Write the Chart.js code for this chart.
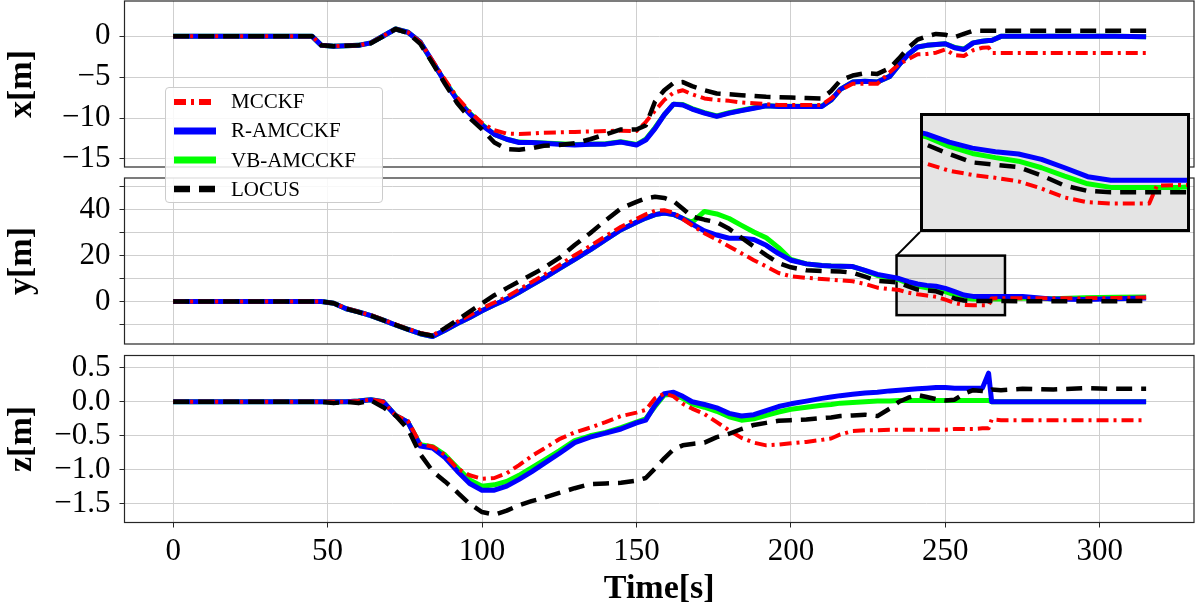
<!DOCTYPE html>
<html>
<head>
<meta charset="utf-8">
<script src="https://cdn.jsdelivr.net/npm/chart.js@4.4.1/dist/chart.umd.min.js"></script>
<style>
  html, body { margin: 0; padding: 0; background: #fff; }
  body { width: 1196px; height: 610px; position: relative; overflow: hidden; font-family: "Liberation Serif", serif; }
  canvas { position: absolute; left: 0; }
  #legend {
    position: absolute; left: 165px; top: 87px; width: 216px; height: 114px;
    background: rgba(255,255,255,0.85); border: 1px solid #cccccc; border-radius: 4px; z-index: 10;
  }
  #legend .item { position: absolute; left: 8px; height: 27px; display: flex; align-items: center; }
  #legend .item span { margin-left: 15px; font-size: 21px; color: #000; }
</style>
</head>
<body>
<canvas id="zPanel" width="1196" height="260" style="top:350px; z-index:1"></canvas>
<canvas id="yPanel" width="1196" height="184" style="top:170px; z-index:2"></canvas>
<canvas id="xPanel" width="1196" height="176" style="top:0px; z-index:3"></canvas>
<canvas id="inset" width="270" height="119" style="left:920px; top:113px; z-index:4"></canvas>
<div id="legend"></div>

<script>
// ---- data ----
const time = [0, 45, 48, 52, 56, 60, 64, 68, 72, 76,
  80, 84, 88, 92, 96, 100, 104, 108, 112, 116,
  120, 125, 130, 135, 140, 145, 150, 153, 156, 159,
  162, 165, 168, 172, 176, 180, 184, 188, 192, 196,
  200, 205, 210, 213, 216, 220, 224, 228, 232, 235,
  238, 241, 244, 247, 250, 253, 256, 259, 262, 264,
  265, 268, 275, 285, 295, 305, 315];

const seriesNames = ["MCCKF", "R-AMCCKF", "VB-AMCCKF", "LOCUS"];

// x[m]
const xMcckf = [0, 0, -1.1, -1.2, -1.15, -1.1, -0.8, 0.05, 0.9, 0.5,
  -0.7, -3.0, -5.3, -7.5, -9.2, -10.6, -11.5, -11.9, -11.95, -11.9,
  -11.8, -11.75, -11.7, -11.65, -11.6, -11.55, -11.6, -10.5, -9.1, -7.8,
  -6.9, -6.6, -7.1, -7.6, -7.8, -7.9, -8.1, -8.2, -8.3, -8.4,
  -8.4, -8.4, -8.4, -7.6, -6.6, -5.8, -5.8, -5.8, -4.4, -3.4,
  -2.8, -2.2, -2.15, -2.0, -1.6, -2.3, -2.4, -1.7, -1.4, -1.35,
  -2.05, -2.05, -2.05, -2.05, -2.05, -2.05, -2.05];
const xRamcckf = [0, 0, -1.1, -1.2, -1.15, -1.1, -0.8, 0.05, 0.9, 0.5,
  -0.7, -3.1, -5.6, -7.8, -9.5, -10.9, -12.0, -12.6, -13.0, -13.0,
  -13.1, -13.2, -13.3, -13.2, -13.2, -12.95, -13.3, -12.7, -11.3, -9.6,
  -8.3, -8.4, -8.9, -9.4, -9.8, -9.4, -9.1, -8.8, -8.5, -8.6,
  -8.6, -8.6, -8.6, -7.8, -6.5, -5.6, -5.5, -5.6, -4.9, -3.5,
  -2.2, -1.3, -1.1, -1.0, -0.9, -1.4, -1.6, -0.8, -0.6, -0.5,
  -0.5, 0, 0, 0, 0, 0, -0.05];
const xVbamcckf = [0, 0, -1.1, -1.2, -1.15, -1.1, -0.8, 0.05, 0.9, 0.5,
  -0.7, -3.2, -5.5, -7.7, -9.4, -10.8, -12.0, -12.6, -12.95, -13.0,
  -13.05, -13.15, -13.25, -13.2, -13.15, -12.9, -13.25, -12.6, -11.2, -9.6,
  -8.3, -8.35, -8.85, -9.35, -9.75, -9.35, -9.05, -8.75, -8.5, -8.55,
  -8.55, -8.55, -8.55, -7.8, -6.5, -5.6, -5.5, -5.6, -4.9, -3.5,
  -2.2, -1.3, -1.1, -1.0, -0.9, -1.35, -1.55, -0.8, -0.6, -0.5,
  -0.5, 0, 0, 0, 0, 0, -0.05];
const xLocus = [0, 0, -1.1, -1.2, -1.15, -1.1, -0.85, 0.0, 0.9, 0.4,
  -0.9, -3.3, -5.8, -8.2, -10.0, -11.4, -13.0, -13.8, -13.9, -13.7,
  -13.4, -13.3, -13.1, -12.6, -12.0, -11.4, -11.4, -10.9, -8.0, -6.6,
  -5.7, -5.6, -6.1, -6.6, -7.0, -7.1, -7.2, -7.3, -7.4, -7.45,
  -7.5, -7.55, -7.6, -6.7, -5.4, -4.8, -4.5, -4.6, -3.9, -2.7,
  -1.4, -0.4, 0.0, 0.3, 0.2, -0.1, 0.3, 0.7, 0.7, 0.7,
  0.7, 0.7, 0.7, 0.7, 0.7, 0.7, 0.7];

// y[m]
const yMcckf = [0, 0, 0, -0.8, -3.0, -4.5, -6.0, -8.0, -10.0, -12.0,
  -13.8, -14.8, -11.8, -8.9, -6.0, -3.0, -0.5, 2.0, 5.2, 8.4,
  11.5, 15.8, 20.2, 24.2, 28.5, 32.6, 36.0, 38.0, 39.6, 39.8,
  38.8, 36.0, 33.2, 29.8, 27.0, 24.0, 21.0, 18.0, 15.3, 12.4,
  11.0, 10.3, 9.8, 9.5, 9.2, 8.8, 7.6, 6.0, 5.4, 5.0,
  3.8, 3.1, 2.6, 2.0, 0.8, -0.7, -1.5, -1.7, -1.7, -1.7,
  1.3, 1.4, 1.4, 1.4, 1.4, 1.5, 1.7];
const yRamcckf = [0, 0, 0, -0.8, -3.2, -4.6, -6.2, -8.2, -10.3, -12.2,
  -14.1, -15.3, -12.6, -9.7, -7.0, -4.1, -1.5, 1.0, 4.0, 7.1,
  10.2, 14.3, 18.4, 22.5, 27.0, 31.3, 34.6, 36.4, 37.9, 38.6,
  38.0, 36.2, 33.8, 30.8, 29.0, 27.6, 27.6, 27.0, 24.5, 20.9,
  18.0, 16.4, 15.7, 15.5, 15.4, 15.2, 13.6, 11.8, 10.8, 10.0,
  8.6, 7.6, 7.0, 6.6, 5.7, 4.3, 2.8, 2.2, 2.2, 2.2,
  2.2, 2.2, 2.1, 1.0, 0.8, 1.2, 1.5];
const yVbamcckf = [0, 0, 0, -0.8, -3.2, -4.6, -6.2, -8.2, -10.3, -12.2,
  -14.1, -15.3, -12.6, -9.7, -7.0, -4.1, -1.5, 1.0, 4.0, 7.1,
  10.2, 14.3, 18.4, 22.5, 27.0, 31.3, 34.6, 36.4, 37.9, 38.6,
  38.0, 36.2, 34.5, 39.3, 38.2, 36.2, 33.2, 30.3, 27.8, 23.5,
  18.3, 16.4, 15.7, 15.5, 15.4, 15.2, 13.4, 11.3, 10.3, 9.5,
  7.9, 6.7, 6.0, 5.4, 4.3, 2.9, 1.6, 1.0, 1.0, 1.0,
  1.0, 1.0, 1.5, 1.2, 1.6, 1.8, 1.9];
const yLocus = [0, 0, 0, -0.8, -3.2, -4.7, -6.2, -8.2, -10.2, -12.2,
  -14.0, -15.0, -11.7, -8.1, -4.5, -0.9, 2.7, 5.8, 8.7, 11.6,
  14.6, 19.0, 24.6, 29.8, 35.4, 40.6, 43.5, 45.0, 45.7, 45.2,
  43.8, 40.5, 37.0, 35.7, 34.6, 31.7, 27.8, 24.0, 20.2, 16.7,
  14.9, 13.6, 13.3, 13.2, 13.1, 12.5, 10.8, 9.0, 8.6, 8.2,
  6.6, 5.2, 4.8, 4.4, 3.0, 1.3, 0.4, 0.2, 0.2, 0.2,
  0.2, 0.2, 0.1, 0.1, 0.1, 0.1, 0.2];

// z[m]
const zMcckf = [0, 0, 0, 0, 0, 0.01, 0.03, 0.0, -0.2, -0.28,
  -0.62, -0.66, -0.78, -0.98, -1.08, -1.13, -1.12, -1.05, -0.93, -0.8,
  -0.69, -0.55, -0.45, -0.38, -0.3, -0.21, -0.16, -0.12, 0.05, 0.12,
  0.08, -0.03, -0.1, -0.18, -0.3, -0.42, -0.53, -0.6, -0.64, -0.63,
  -0.61, -0.59, -0.56, -0.54, -0.48, -0.43, -0.42, -0.42, -0.41, -0.41,
  -0.41, -0.41, -0.41, -0.41, -0.41, -0.4, -0.4, -0.4, -0.39, -0.39,
  -0.26, -0.27, -0.27, -0.27, -0.27, -0.27, -0.27];
const zRamcckf = [0, 0, 0, 0, 0, 0.01, 0.03, 0.0, -0.2, -0.3,
  -0.65, -0.68, -0.82, -1.02, -1.2, -1.3, -1.3, -1.24, -1.14, -1.03,
  -0.91, -0.76, -0.6, -0.52, -0.46, -0.4, -0.31, -0.27, -0.05, 0.12,
  0.14, 0.08, 0.0, -0.04, -0.09, -0.17, -0.21, -0.19, -0.13, -0.07,
  -0.03, 0.01, 0.05, 0.07, 0.09, 0.11, 0.13, 0.14, 0.16, 0.17,
  0.18, 0.19, 0.2, 0.21, 0.21, 0.2, 0.2, 0.2, 0.2, 0.42,
  0.0, 0, 0, 0, 0, 0, 0];
const zVbamcckf = [0, 0, 0, 0, 0, 0.01, 0.03, 0.0, -0.2, -0.3,
  -0.63, -0.66, -0.78, -0.97, -1.15, -1.24, -1.22, -1.17, -1.08, -0.97,
  -0.86, -0.72, -0.57, -0.5, -0.45, -0.38, -0.3, -0.25, -0.07, 0.1,
  0.11, 0.05, -0.03, -0.08, -0.14, -0.22, -0.27, -0.25, -0.2, -0.15,
  -0.11, -0.08, -0.05, -0.04, -0.02, -0.01, 0.0, 0.01, 0.01, 0.02,
  0.02, 0.02, 0.02, 0.02, 0.02, 0.02, 0.02, 0.02, 0.02, 0.02,
  0, 0, 0, 0, 0, 0, 0];
const zLocus = [0, 0, 0, -0.02, 0.0, -0.02, 0.02, -0.08, -0.2, -0.4,
  -0.77, -1.02, -1.17, -1.33, -1.5, -1.62, -1.66, -1.6, -1.52, -1.46,
  -1.41, -1.34, -1.27, -1.21, -1.2, -1.19, -1.16, -1.12, -0.98, -0.83,
  -0.7, -0.64, -0.62, -0.6, -0.52, -0.47, -0.4, -0.34, -0.31, -0.28,
  -0.27, -0.26, -0.24, -0.23, -0.21, -0.2, -0.19, -0.21, -0.1, 0.0,
  0.06, 0.1, 0.07, 0.04, 0.02, 0.03, 0.12, 0.17, 0.16, 0.15,
  0.18, 0.17, 0.19, 0.18, 0.2, 0.19, 0.19];

// ticks
const timeTicks = [0, 50, 100, 150, 200, 250, 300];
const xTicks = [-15, -10, -5, 0];
const yGridTicks = [-10, 0, 10, 20, 30, 40, 50];
const yLabelTicks = [0, 20, 40];
const zTicks = [-1.5, -1.0, -0.5, 0.0, 0.5];

// ---- styling / layout ----
const FONT = "'Liberation Serif', 'DejaVu Serif', serif";
const GRID = "#cfcfcf";
const AXIS = "#262626";
const T_RANGE = [-15.75, 330.5];
const ZOOM_T = [234.2, 269.3];   // zoomed window (time)
const ZOOM_BOX_Y = [-6, 20];     // marked box on the y panel
const INSET_Y = [-6.5, 13.5];
const INSET = { left: 920, top: 113, width: 270, height: 119 };
const Y_PANEL_TOP = 170;

const seriesStyle = [
  { color: "#ff0000", width: 4, dash: [12, 5, 3, 5], order: 1 },
  { color: "#0000ff", width: 5, dash: [], order: 2 },
  { color: "#00ff00", width: 5, dash: [], order: 3 },
  { color: "#000000", width: 4.5, dash: [16, 9], order: 0 }
];

function minus(s) { return s.replace("-", "\u2212"); }

function makeDatasets(list) {
  return list.map((vals, i) => ({
    label: seriesNames[i],
    data: time.map((t, k) => ({ x: t, y: vals[k] })),
    borderColor: seriesStyle[i].color,
    borderWidth: seriesStyle[i].width,
    borderDash: seriesStyle[i].dash,
    borderJoinStyle: "round",
    order: seriesStyle[i].order,
    pointRadius: 0,
    tension: 0,
    fill: false
  }));
}

// frame around each plot area
const framePlugin = {
  id: "frame",
  afterDraw(chart) {
    const a = chart.chartArea, ctx = chart.ctx;
    ctx.save();
    ctx.strokeStyle = AXIS;
    ctx.lineWidth = 1.2;
    ctx.strokeRect(a.left, a.top, a.right - a.left, a.bottom - a.top);
    ctx.restore();
  }
};

// grey box marking the zoomed region + connector to the inset
const zoomBoxPlugin = {
  id: "zoomBox",
  beforeDatasetsDraw(chart) {
    const { ctx, scales: { x, y } } = chart;
    const l = x.getPixelForValue(ZOOM_T[0]), r = x.getPixelForValue(ZOOM_T[1]);
    const t = y.getPixelForValue(ZOOM_BOX_Y[1]), b = y.getPixelForValue(ZOOM_BOX_Y[0]);
    ctx.save();
    ctx.fillStyle = "rgba(0,0,0,0.11)";
    ctx.fillRect(l, t, r - l, b - t);
    ctx.strokeStyle = "#000";
    ctx.lineWidth = 2.5;
    ctx.strokeRect(l, t, r - l, b - t);
    ctx.restore();
  },
  afterDraw(chart) {
    const { ctx, scales: { x, y } } = chart;
    ctx.save();
    ctx.strokeStyle = "#000";
    ctx.lineWidth = 2;
    ctx.beginPath();
    ctx.moveTo(x.getPixelForValue(ZOOM_T[0]), y.getPixelForValue(ZOOM_BOX_Y[1]));
    ctx.lineTo(INSET.left, INSET.top + INSET.height - Y_PANEL_TOP);
    ctx.stroke();
    ctx.restore();
  }
};

function timeAxis(showLabels) {
  return {
    type: "linear",
    min: T_RANGE[0],
    max: T_RANGE[1],
    afterBuildTicks: s => { s.ticks = timeTicks.map(v => ({ value: v })); },
    grid: { color: GRID, lineWidth: 1, drawTicks: showLabels, tickLength: 5, tickColor: AXIS },
    border: { display: false },
    ticks: {
      display: showLabels, autoSkip: false, color: "#000", padding: 6, maxRotation: 0,
      font: { family: FONT, size: 31 },
      callback: v => String(v)
    },
    title: {
      display: showLabels, text: "Time[s]", color: "#000",
      font: { family: FONT, size: 34, weight: "bold" }, padding: { top: 0, bottom: 0 }
    },
    afterFit: s => { s.height = showLabels ? 87.5 : 0; s.paddingLeft = 0; s.paddingRight = 0; }
  };
}

function valueAxis(min, max, tickVals, label, fmt) {
  return {
    type: "linear",
    min: min,
    max: max,
    afterBuildTicks: s => { s.ticks = tickVals.map(v => ({ value: v })); },
    grid: { color: GRID, lineWidth: 1, tickLength: 5, tickColor: AXIS },
    border: { display: false },
    ticks: { autoSkip: false, color: "#000", padding: 9, font: { family: FONT, size: 31 }, callback: fmt },
    title: {
      display: true, text: label, color: "#000",
      font: { family: FONT, size: 34, weight: "bold" }, padding: { top: 2, bottom: 0 }
    },
    afterFit: s => { s.width = 124.5; s.paddingTop = 0; s.paddingBottom = 0; }
  };
}

function makePanel(id, series, yAxis, showTimeLabels, pad, extra) {
  return new Chart(document.getElementById(id), {
    type: "line",
    data: { datasets: makeDatasets(series) },
    options: {
      responsive: false,
      animation: false,
      parsing: false,
      normalized: true,
      layout: { padding: pad },
      plugins: { legend: { display: false }, tooltip: { enabled: false } },
      scales: { x: timeAxis(showTimeLabels), y: yAxis }
    },
    plugins: [framePlugin].concat(extra || [])
  });
}

makePanel("xPanel", [xMcckf, xRamcckf, xVbamcckf, xLocus],
  valueAxis(-16, 4.33, xTicks, "x[m]", v => minus(String(v))),
  false, { left: 0, right: 2, top: 1, bottom: 9 });

makePanel("yPanel", [yMcckf, yRamcckf, yVbamcckf, yLocus],
  valueAxis(-18.6, 53.9, yGridTicks, "y[m]", v => yLabelTicks.includes(v) ? minus(String(v)) : ""),
  false, { left: 0, right: 2, top: 8, bottom: 10 }, [zoomBoxPlugin]);

makePanel("zPanel", [zMcckf, zRamcckf, zVbamcckf, zLocus],
  valueAxis(-1.774, 0.68, zTicks, "z[m]", v => minus(v.toFixed(1))),
  true, { left: 0, right: 2, top: 5.5, bottom: 0 });

// inset: zoom of the y panel
const insetPlugin = {
  id: "insetBg",
  beforeDraw(chart) {
    const ctx = chart.ctx;
    ctx.save();
    ctx.fillStyle = "#e4e4e4";
    ctx.fillRect(0, 0, chart.width, chart.height);
    ctx.restore();
  },
  afterDraw(chart) {
    const ctx = chart.ctx;
    ctx.save();
    ctx.strokeStyle = "#000";
    ctx.lineWidth = 3;
    ctx.strokeRect(1.5, 1.5, chart.width - 3, chart.height - 3);
    ctx.restore();
  }
};
new Chart(document.getElementById("inset"), {
  type: "line",
  data: { datasets: makeDatasets([yMcckf, yRamcckf, yVbamcckf, yLocus]) },
  options: {
    responsive: false,
    animation: false,
    parsing: false,
    layout: { padding: 0 },
    plugins: { legend: { display: false }, tooltip: { enabled: false } },
    scales: {
      x: { type: "linear", display: false, min: ZOOM_T[0], max: ZOOM_T[1] },
      y: { type: "linear", display: false, min: INSET_Y[0], max: INSET_Y[1] }
    }
  },
  plugins: [insetPlugin]
});

// legend
const legend = document.getElementById("legend");
seriesNames.forEach((name, i) => {
  const st = seriesStyle[i];
  const item = document.createElement("div");
  item.className = "item";
  item.style.top = (i * 29.3) + "px";
  item.innerHTML =
    `<svg width="42" height="12"><line x1="0" y1="6" x2="42" y2="6" stroke="${st.color}" ` +
    `stroke-width="${st.width + 2}" stroke-dasharray="${st.dash.join(" ")}"/></svg><span>${name}</span>`;
  legend.appendChild(item);
});
</script>
</body>
</html>
